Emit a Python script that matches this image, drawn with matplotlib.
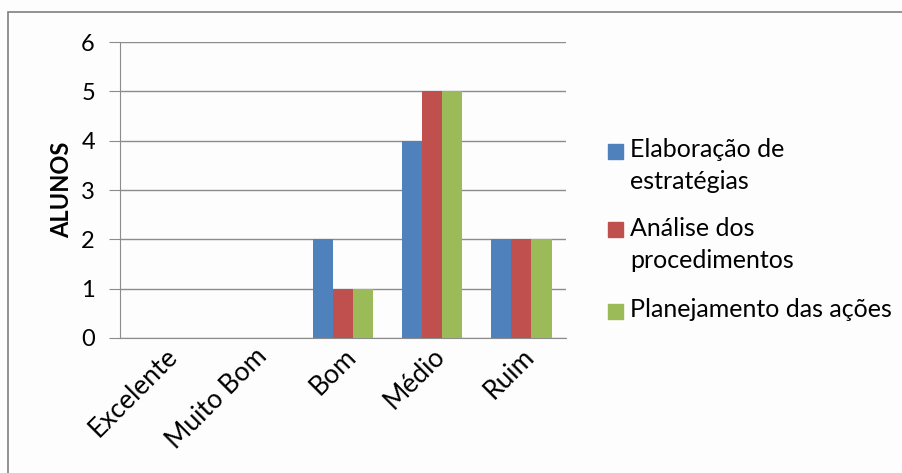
import matplotlib.pyplot as plt
from matplotlib.patches import Rectangle
import numpy as np

categorias = ['Excelente', 'Muito Bom', 'Bom', 'Médio', 'Ruim']
elaboracao = [0, 0, 2, 4, 2]
analise = [0, 0, 1, 5, 2]
planejamento = [0, 0, 1, 5, 2]
series = ['Elaboração de\nestratégias', 'Análise dos\nprocedimentos', 'Planejamento das ações']
cores = ['#4F81BD', '#C0504D', '#9BBB59']

plt.rcParams['font.family'] = ['Lato', 'DejaVu Sans']

W, H = 902, 473
fig = plt.figure(figsize=(W / 100, H / 100), dpi=100)
fig.patch.set_facecolor('#fdfdfd')
ax = fig.add_axes([120 / W, 1 - 338 / H, 446 / W, 296 / H])
ax.set_facecolor('#fdfdfd')

x = np.arange(len(categorias))
w = 0.225
for i, (vals, cor) in enumerate(zip([elaboracao, analise, planejamento], cores)):
    ax.bar(x + (i - 1) * w, vals, w, color=cor, zorder=3)

ax.set_xlim(-0.5, len(categorias) - 0.5)
ax.set_ylim(0, 6)
ax.set_yticks(range(7))
ax.yaxis.grid(True, color='#8c8c8c', linewidth=1, zorder=0)
for s in ['top', 'right']:
    ax.spines[s].set_visible(False)
ax.spines['left'].set_color('#8c8c8c')
ax.spines['bottom'].set_color('#8c8c8c')
ax.tick_params(axis='y', length=8, color='#8c8c8c', labelsize=17, pad=10)
ax.tick_params(axis='x', length=0, labelsize=19, pad=4)
ax.set_xticks(x)
ax.set_xticklabels(categorias, rotation=45, ha='right', rotation_mode='anchor')
ax.set_ylabel('ALUNOS', fontsize=17, fontweight='bold', labelpad=6)

# legenda: quadrado alinhado com a primeira linha de cada item
leg_y = [151, 230, 311]
for nome, cor, yy in zip(series, cores, leg_y):
    fig.patches.append(Rectangle((608 / W, 1 - (yy + 7.5) / H), 15 / W, 15 / H,
                                 transform=fig.transFigure, color=cor))
    fig.text(630 / W, 1 - (yy - 13) / H, nome, fontsize=18, va='top', ha='left',
             linespacing=1.45)

# moldura em volta do gráfico
fig.patches.append(Rectangle((8 / W, -0.1), 1.2, 1.1 - 12 / H,
                             transform=fig.transFigure, fill=False,
                             edgecolor='#7f7f7f', linewidth=1.2))

fig.savefig('out.png', dpi=100, facecolor=fig.get_facecolor())
